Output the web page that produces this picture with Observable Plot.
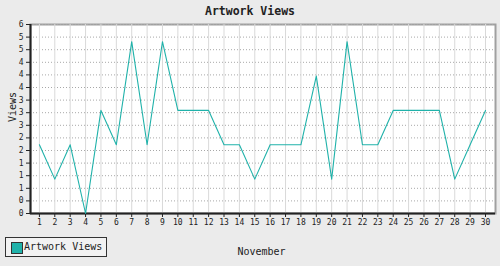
<!DOCTYPE html>
<html>
<head>
<meta charset="utf-8">
<script src="https://cdn.jsdelivr.net/npm/d3@7"></script>
<script src="https://cdn.jsdelivr.net/npm/@observablehq/plot@0.6"></script>
<style>
  html, body { margin: 0; padding: 0; background: #ebebeb; }
  #wrap { position: relative; width: 500px; height: 266px; overflow: hidden; font-family: "DejaVu Sans Mono", monospace; }
  #title { position: absolute; left: 0; top: 4px; width: 500px; text-align: center; font-weight: bold; font-size: 11.5px; color: #222; }
  #legend { position: absolute; left: 5px; top: 237px; width: 102px; height: 20px; border: 1.5px solid #333; background: #f2f2f2; box-sizing: border-box; }
  #legend .sw { position: absolute; left: 4.5px; top: 3.5px; width: 10px; height: 10px; border: 1px solid #333; }
  #legend .lb { position: absolute; left: 18px; top: 2.5px; font-size: 10px; color: #222; white-space: nowrap; }
  svg { position: absolute; left: 0; top: 0; }
</style>
</head>
<body>
<div id="wrap">
  <div id="chart"></div>
  <div id="title">Artwork Views</div>
  <div id="legend"><div class="sw"></div><div class="lb"></div></div>
</div>
<script>
const seriesName = "Artwork Views";
const days = [1,2,3,4,5,6,7,8,9,10,11,12,13,14,15,16,17,18,19,20,21,22,23,24,25,26,27,28,29,30];
const views = [2,1,2,0,3,2,5,2,5,3,3,3,2,2,1,2,2,2,4,1,5,2,2,3,3,3,3,1,2,3];
const yMax = 5.5;
const yTickCount = 15;
const yTicks = d3.range(yTickCount + 1).map(i => i * yMax / yTickCount);
const xDomain = [0.42, 30.65];
const lineColor = "#20b2aa";

const data = days.map((d, i) => ({day: d, views: views[i]}));

const chart = Plot.plot({
  width: 500,
  height: 266,
  marginLeft: 30,
  marginRight: 5,
  marginTop: 24,
  marginBottom: 53,
  style: {background: "transparent", fontFamily: "DejaVu Sans Mono, monospace", fontSize: "8px", color: "#222"},
  x: {type: "linear", domain: xDomain},
  y: {domain: [0, yMax]},
  marks: [
    Plot.frame({fill: "white", stroke: "#a0a0a0", strokeWidth: 2}),
    Plot.gridY(yTicks, {stroke: "#a8a8a8", strokeOpacity: 1, strokeDasharray: "1,2"}),
    Plot.gridX(days, {stroke: "#d9d9d9", strokeOpacity: 1, strokeWidth: 1}),
    Plot.axisX(days, {tickSize: 4, tickPadding: 2, tickFormat: d => String(d), label: null, fontSize: 8}),
    Plot.axisY(yTicks, {tickSize: 4, tickPadding: 3, tickFormat: d => String(Math.round(d)), label: null, fontSize: 8}),
    Plot.ruleY([0], {stroke: "#222", strokeWidth: 2}),
    Plot.ruleX([xDomain[0]], {stroke: "#222", strokeWidth: 2}),
    Plot.line(data, {x: "day", y: "views", stroke: lineColor, strokeWidth: 1.1}),
    Plot.text(["Views"], {frameAnchor: "left", dx: -18, dy: 3, rotate: -90, fontSize: 10, fill: "#222"}),
    Plot.text(["November"], {frameAnchor: "bottom", dx: -1.5, dy: 41.5, fontSize: 10, fill: "#222"})
  ]
});
document.getElementById("chart").appendChild(chart);
document.querySelector("#legend .sw").style.background = lineColor;
document.querySelector("#legend .lb").textContent = seriesName;
document.getElementById("title").textContent = seriesName;
</script>
</body>
</html>
